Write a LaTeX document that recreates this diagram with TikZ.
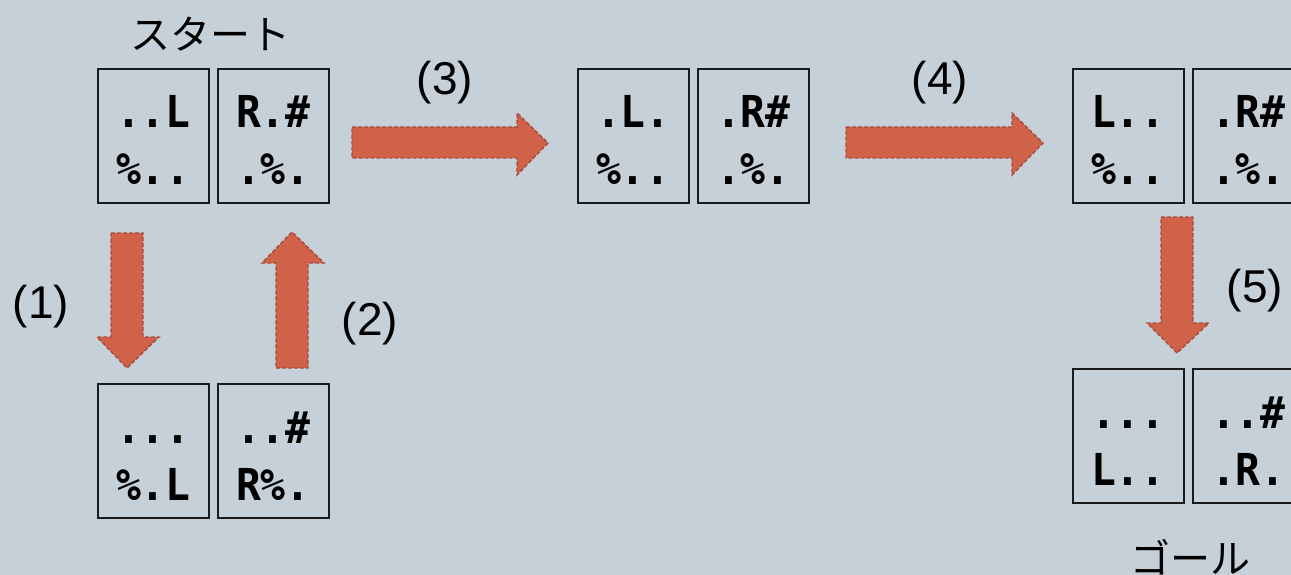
\documentclass[tikz,border=0pt]{standalone}
\usepackage{fontspec}
\usetikzlibrary{calc}
\setmainfont{Liberation Sans}
\newfontfamily\jpfont{Noto Sans CJK JP}
\newfontfamily\cellfont{DejaVu Sans Mono}[FakeStretch=0.94]

\definecolor{bgcol}{HTML}{C5D0D8}
\definecolor{boxline}{HTML}{1A1A1A}
\definecolor{arrowfill}{HTML}{D0624A}
\definecolor{arrowline}{HTML}{A84A3C}

% one cell: name, top-left x, top-left y, first row, second row
\newcommand\drawcell[5]{%
  \node[cellbox] (#1) at (#2,#3) {};
  \node[celltext] (#1-a) at ($(#1.north)+(0,60)$) {#4};
  \node[celltext] (#1-b) at ($(#1.north)+(0,117)$) {#5};
}

\begin{document}
\begin{tikzpicture}[x=1pt,y=-1pt,
  cellbox/.style={draw=boxline,line width=1.8pt,minimum width=111pt,
    minimum height=134pt,inner sep=0pt,anchor=north west},
  celltext/.style={font=\cellfont\bfseries\fontsize{44}{44}\selectfont,
    anchor=base,inner sep=0pt},
  blockarrow/.style={fill=arrowfill,draw=arrowline,
    dash pattern=on 4pt off 2pt,line width=1.4pt,line join=miter},
  steplabel/.style={font=\fontsize{46}{46}\selectfont,inner sep=0pt},
  jplabel/.style={font=\jpfont\fontsize{40}{40}\selectfont,inner sep=0pt}]

\useasboundingbox (0,0) rectangle (1291,575);
\clip (0,0) rectangle (1291,575);
\fill[bgcol] (0,0) rectangle (1291,575);

% start state
\drawcell{s1}{97}{68}{..L}{\%..}
\drawcell{s2}{217}{68}{R.\#}{.\%.}
% after moves (1) and (2)
\drawcell{b1}{97}{383}{...}{\%.L}
\drawcell{b2}{217}{383}{..\#}{R\%.}
% after move (3)
\drawcell{m1}{577}{68}{.L.}{\%..}
\drawcell{m2}{697}{68}{.R\#}{.\%.}
% after move (4)
\drawcell{r1}{1072}{68}{L..}{\%..}
\drawcell{r2}{1192}{68}{.R\#}{.\%.}
% goal state
\drawcell{g1}{1072}{368}{...}{L..}
\drawcell{g2}{1192}{368}{..\#}{.R.}

% block arrows
\draw[blockarrow] (111,233) -- (143,233) -- (143,337) -- (159,337)
  -- (127,368) -- (97,337) -- (111,337) -- cycle;
\draw[blockarrow] (276,368) -- (308,368) -- (308,263) -- (324,263)
  -- (292,232) -- (262,263) -- (276,263) -- cycle;
\draw[blockarrow] (352,127) -- (517,127) -- (517,113) -- (548,143)
  -- (517,175) -- (517,158) -- (352,158) -- cycle;
\draw[blockarrow] (846,127) -- (1012,127) -- (1012,113) -- (1043,143)
  -- (1012,175) -- (1012,158) -- (846,158) -- cycle;
\draw[blockarrow] (1161,217) -- (1193,217) -- (1193,323) -- (1209,323)
  -- (1177,353) -- (1147,323) -- (1161,323) -- cycle;

% move labels
\node[steplabel] (l1) at (41,307) {(1)};
\node[steplabel] (l2) at (370,324) {(2)};
\node[steplabel] (l3) at (445,83) {(3)};
\node[steplabel] (l4) at (940,83) {(4)};
\node[steplabel] (l5) at (1255,291) {(5)};

\node[jplabel] (start) at (210,34) {スタート};
\node[jplabel] (goal) at (1190,557) {ゴール};
\end{tikzpicture}
\end{document}
